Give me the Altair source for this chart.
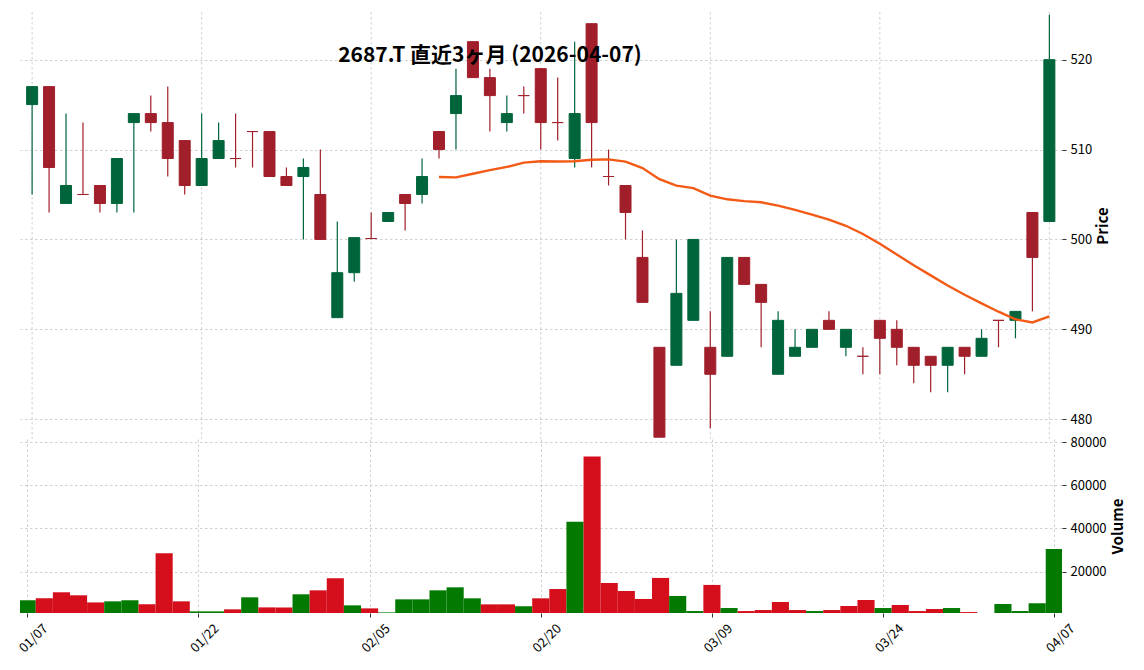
import json
import altair as alt
import pandas as pd

dates = ["01/07","01/08","01/09","01/13","01/14","01/15","01/16","01/19","01/20","01/21",
         "01/22","01/23","01/26","01/27","01/28","01/29","01/30","02/02","02/03","02/04",
         "02/05","02/06","02/09","02/10","02/12","02/13","02/16","02/17","02/18","02/19",
         "02/20","02/24","02/25","02/26","02/27","03/02","03/03","03/04","03/05","03/06",
         "03/09","03/10","03/11","03/12","03/13","03/16","03/17","03/18","03/19","03/23",
         "03/24","03/25","03/26","03/27","03/30","03/31","04/01","04/02","04/03","04/06",
         "04/07"]

opens = [515, 517, 504, 505, 506, 504, 513, 514, 513, 511,
         506, 509, 509, 512, 512, 507, 507, 505, 491.3, 496.3,
         500.1, 502, 505, 505, 512, 514, 522, 518, 513, 516,
         519, 513, 509, 524, 507, 506, 498, 488, 486, 491,
         488, 487, 498, 495, 485, 487, 488, 491, 488, 487,
         491, 490, 488, 487, 486, 488, 487, 491, 491, 503,
         502]
highs = [517, 517, 514, 513, 506, 509, 514, 516, 517, 511,
         514, 513, 514, 512, 512, 508, 509, 510, 502, 500.2,
         503, 503, 505, 509, 512, 519, 522, 519, 516, 517,
         519, 518, 522, 524, 510, 506, 501, 488, 500, 500,
         492, 498, 498, 495, 492, 490, 490, 492, 490, 488,
         491, 491, 488, 487, 488, 488, 490, 491, 492, 503,
         525]
lows = [505, 503, 504, 505, 503, 503, 503, 512, 507, 505,
        506, 509, 508, 508, 507, 506, 500, 500, 491.3, 495.3,
        500.1, 502, 501, 504, 509, 510, 518, 512, 512, 514,
        510, 511, 508, 508, 506, 500, 493, 478, 486, 491,
        479, 487, 495, 488, 485, 487, 488, 490, 487, 485,
        485, 486, 484, 483, 483, 485, 487, 488, 489, 492,
        502]
closes = [517, 508, 506, 505, 504, 509, 514, 513, 509, 506,
          509, 511, 509, 512, 507, 506, 508, 500, 496.3, 500.2,
          500.1, 503, 504, 507, 510, 516, 518, 516, 514, 516,
          513, 513, 514, 513, 507, 503, 493, 478, 494, 500,
          485, 498, 495, 493, 491, 488, 490, 490, 490, 487,
          489, 488, 486, 486, 488, 487, 489, 491, 492, 498,
          520]
volumes = [6700, 7600, 10400, 9000, 5700, 6200, 6700, 4800, 28500, 6200,
           1550, 1550, 2500, 8060, 3400, 3400, 9460, 11300, 16900, 4340,
           2950, 1085, 7130, 7130, 11300, 12700, 7600, 4800, 4800, 3900,
           7600, 11900, 43100, 73300, 14700, 11000, 7300, 17050, 8700, 1700,
           13800, 3100, 1700, 2170, 5900, 2170, 1700, 2170, 4030, 6820,
           3100, 4500, 1700, 2640, 3100, 1240, 0, 4960, 1700, 5270,
           30500]

title_text = "2687.T  直近3ヶ月  (2026-04-07)"
tick_idx = list(range(0, 61, 10))

n = len(dates)
prev_close = [opens[0]] + closes[:-1]
df = pd.DataFrame({
    "idx": list(range(n)),
    "date": dates,
    "open": opens,
    "high": highs,
    "low": lows,
    "close": closes,
    "volume": volumes,
    "dir": ["up" if c > o else "down" for o, c in zip(opens, closes)],
    "vdir": ["vup" if c > p else "vdown" for p, c in zip(prev_close, closes)],
})
ticks_df = pd.DataFrame({"tick": tick_idx})

FONT = "Noto Sans CJK JP"
UP, DOWN = "#00653B", "#A01F2A"
VUP, VDOWN = "#027A02", "#D40F1B"
GRIDC = "#c4c4c4"
GRID = dict(grid=True, gridColor=GRIDC, gridDash=[2.5, 2.5], gridWidth=0.8)

W = 1042
xscale = alt.Scale(domain=[-0.42, 60.45], nice=False, zero=False)
cscale = alt.Scale(domain=["up", "down"], range=[UP, DOWN])

base = alt.Chart(df).encode(x=alt.X("idx:Q", scale=xscale, axis=None))

yprice = alt.Y("low:Q",
               scale=alt.Scale(domain=[477.8, 525.3], nice=False, zero=False),
               axis=alt.Axis(orient="right", values=[480, 490, 500, 510, 520],
                             title="Price", titleAngle=270, titleBaseline="top",
                             domain=False, **GRID))

vgrid = alt.Chart(ticks_df).mark_rule(
    color=GRIDC, strokeDash=[2.5, 2.5], strokeWidth=0.8
).encode(x=alt.X("tick:Q", scale=xscale, axis=None))

wick = base.mark_rule(strokeWidth=1.2).encode(
    y=yprice, y2="high:Q",
    color=alt.Color("dir:N", scale=cscale, legend=None),
)
body = base.mark_bar(size=11, strokeWidth=1).encode(
    y="open:Q", y2="close:Q",
    color=alt.Color("dir:N", scale=cscale, legend=None),
    stroke=alt.Stroke("dir:N", scale=cscale, legend=None),
)
ma = base.transform_window(
    ma="mean(close)", cnt="count()", frame=[-24, 0]
).transform_filter("datum.cnt >= 25").mark_line(
    color="#F25A16", strokeWidth=2.4
).encode(y="ma:Q")

title_layer = alt.Chart(pd.DataFrame({"t": [title_text]})).mark_text(
    font=FONT, fontSize=21, fontWeight="bold", align="center", baseline="middle",
    color="black"
).encode(x=alt.value(470), y=alt.value(44), text="t:N")

price = alt.layer(vgrid, wick, body, ma, title_layer).properties(width=W, height=427)

label_expr = json.dumps(dates) + "[datum.value]"
vol = alt.Chart(df).transform_calculate(
    x0="datum.idx - 0.5", x1="datum.idx + 0.5"
).mark_bar(clip=True).encode(
    x=alt.X("x0:Q", scale=xscale,
            axis=alt.Axis(values=tick_idx, labelExpr=label_expr, labelAngle=-45,
                          labelAlign="center", labelBaseline="middle", labelPadding=21,
                          labelFontSize=13, labelOffset=6, domain=False, title=None,
                          **GRID)),
    x2="x1:Q",
    y=alt.Y("volume:Q", scale=alt.Scale(domain=[800, 81400], nice=False, zero=False),
            axis=alt.Axis(orient="right", values=[20000, 40000, 60000, 80000], format="d",
                          title="Volume", titleAngle=270, titleBaseline="top",
                          domain=False, **GRID)),
    y2=alt.datum(0),
    color=alt.Color("vdir:N", scale=alt.Scale(domain=["vup", "vdown"], range=[VUP, VDOWN]),
                    legend=None),
).properties(width=W, height=174)

chart = alt.vconcat(price, vol, spacing=0, bounds="flush").resolve_scale(
    color="independent"
).properties(
    padding={"left": 8, "top": 3, "right": 0, "bottom": 0}
).configure_view(stroke=None).configure_axis(
    labelFont=FONT, labelFontSize=13, labelColor="black",
    titleFont=FONT, titleFontSize=15, titleFontWeight="bold", titleColor="black",
    tickColor="#333333", tickSize=4, labelPadding=4, titlePadding=4,
).configure_concat(spacing=0)

chart.save("out.html", embed_options={"renderer": "svg", "actions": False})
